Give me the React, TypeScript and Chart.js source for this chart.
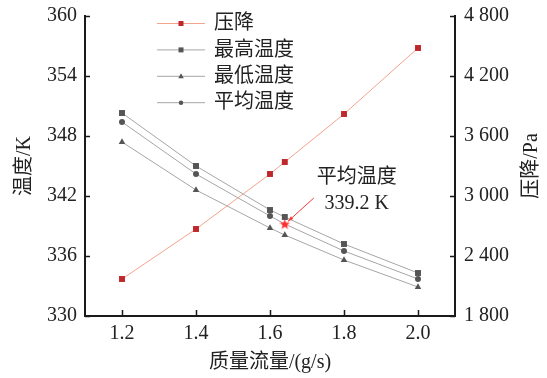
import React, { useEffect, useRef } from "react";
import { Chart, registerables } from "chart.js";

Chart.register(...registerables);

// ---- data ----
const massFlow = [1.2, 1.4, 1.6, 1.64, 1.8, 2.0];
const pressureDrop = [2170, 2670, 3220, 3340, 3820, 4480];
const maxTemp = [350.3, 345.0, 340.6, 339.9, 337.2, 334.3];
const minTemp = [347.4, 342.6, 338.8, 338.1, 335.6, 332.9];
const avgTemp = [349.4, 344.2, 340.0, 339.2, 336.5, 333.7];
const xTicks = [1.2, 1.4, 1.6, 1.8, 2.0];
const seriesNames = ["压降", "最高温度", "最低温度", "平均温度"];
const highlightIndex = 3;
const annotationTitle = "平均温度";
const annotationValue = `${avgTemp[highlightIndex]} K`;

const FONT = "'Liberation Serif', 'Times New Roman', 'Noto Sans CJK SC', serif";
const TEXT = "#222";
const AXIS = "#1a1a1a";
const RED = "#c0272d";
const SALMON = "#f2a48e";
const GRAY_LINE = "#a6a6a6";
const GRAY_MARK = "#555";

function makeStar(size: number, color: string) {
  const c = document.createElement("canvas");
  c.width = size;
  c.height = size;
  const g = c.getContext("2d")!;
  const cx = size / 2, cy = size / 2 + 0.5;
  const R = size / 2, r = R * 0.42;
  g.beginPath();
  for (let i = 0; i < 10; i++) {
    const a = -Math.PI / 2 + (i * Math.PI) / 5;
    const rad = i % 2 === 0 ? R : r;
    const px = cx + rad * Math.cos(a), py = cy + rad * Math.sin(a);
    if (i === 0) g.moveTo(px, py); else g.lineTo(px, py);
  }
  g.closePath();
  g.fillStyle = color;
  g.fill();
  return c;
}

function drawMarker(ctx: CanvasRenderingContext2D, style: string, x: number, y: number, s: number, color: string) {
  ctx.fillStyle = color;
  ctx.beginPath();
  if (style === "rect") {
    ctx.rect(x - s / 2, y - s / 2, s, s);
  } else if (style === "triangle") {
    ctx.moveTo(x, y - s * 0.6);
    ctx.lineTo(x + s * 0.55, y + s * 0.4);
    ctx.lineTo(x - s * 0.55, y + s * 0.4);
    ctx.closePath();
  } else {
    ctx.arc(x, y, s / 2, 0, Math.PI * 2);
  }
  ctx.fill();
}

const fmtThousands = (v: number) => {
  const s = String(Math.round(v));
  return s.length > 3 ? s.slice(0, -3) + " " + s.slice(-3) : s;
};

const legendItems = [
  { name: seriesNames[0], line: SALMON, mark: RED, style: "rect" },
  { name: seriesNames[1], line: GRAY_LINE, mark: GRAY_MARK, style: "rect" },
  { name: seriesNames[2], line: GRAY_LINE, mark: GRAY_MARK, style: "triangle" },
  { name: seriesNames[3], line: GRAY_LINE, mark: GRAY_MARK, style: "circle" },
];

const zeroPad = (s: any) => {
  s.paddingTop = 0;
  s.paddingBottom = 0;
  s.paddingLeft = 0;
  s.paddingRight = 0;
};

const decorPlugin = {
  id: "decor",
  afterDraw(chart: any) {
    const ctx: CanvasRenderingContext2D = chart.ctx;
    const { left, right, top, bottom } = chart.chartArea;
    const sx = chart.scales.x, sy = chart.scales.y, sy1 = chart.scales.y1;
    ctx.save();
    // inward tick marks
    ctx.strokeStyle = AXIS;
    ctx.lineWidth = 1.5;
    ctx.beginPath();
    sy.ticks.forEach((t: any) => {
      const p = Math.round(sy.getPixelForValue(t.value)) + 0.5;
      ctx.moveTo(left, p);
      ctx.lineTo(left + 5, p);
    });
    sy1.ticks.forEach((t: any) => {
      const p = Math.round(sy1.getPixelForValue(t.value)) + 0.5;
      ctx.moveTo(right, p);
      ctx.lineTo(right - 5, p);
    });
    sx.ticks.forEach((t: any) => {
      const p = Math.round(sx.getPixelForValue(t.value)) + 0.5;
      ctx.moveTo(p, bottom);
      ctx.lineTo(p, bottom - 6);
    });
    ctx.stroke();

    // right axis title (reads bottom to top)
    ctx.fillStyle = TEXT;
    ctx.font = `20px ${FONT}`;
    ctx.textAlign = "center";
    ctx.textBaseline = "middle";
    ctx.save();
    ctx.translate(532, (top + bottom) / 2);
    ctx.rotate(-Math.PI / 2);
    ctx.fillText("压降/Pa", 0, 0);
    ctx.restore();

    // legend
    const lx0 = left + 72, lx1 = left + 120, rowY0 = top + 7, rowH = 26.4;
    legendItems.forEach((it, i) => {
      const yy = rowY0 + i * rowH;
      ctx.strokeStyle = it.line;
      ctx.lineWidth = 1;
      ctx.beginPath();
      ctx.moveTo(lx0, yy + 0.5);
      ctx.lineTo(lx1, yy + 0.5);
      ctx.stroke();
      drawMarker(ctx, it.style, (lx0 + lx1) / 2, yy + 0.5, it.style === "circle" ? 4.5 : 5, it.mark);
      ctx.fillStyle = TEXT;
      ctx.font = `20px ${FONT}`;
      ctx.textAlign = "left";
      ctx.textBaseline = "middle";
      ctx.fillText(it.name, lx1 + 9, yy + 1);
    });

    // annotation with arrow
    const px = sx.getPixelForValue(massFlow[highlightIndex]);
    const py = sy.getPixelForValue(avgTemp[highlightIndex]);
    const ax0 = px + 29, ay0 = py - 26;
    const ax1 = px + 3, ay1 = py - 2.5;
    ctx.strokeStyle = "#f03a3a";
    ctx.fillStyle = "#f03a3a";
    ctx.lineWidth = 1;
    ctx.beginPath();
    ctx.moveTo(ax0, ay0);
    ctx.lineTo(ax1, ay1);
    ctx.stroke();
    const ang = Math.atan2(ay1 - ay0, ax1 - ax0);
    ctx.beginPath();
    ctx.moveTo(ax1, ay1);
    ctx.lineTo(ax1 - 6 * Math.cos(ang - 0.3), ay1 - 6 * Math.sin(ang - 0.3));
    ctx.lineTo(ax1 - 6 * Math.cos(ang + 0.3), ay1 - 6 * Math.sin(ang + 0.3));
    ctx.closePath();
    ctx.fill();

    ctx.fillStyle = TEXT;
    ctx.font = `20px ${FONT}`;
    ctx.textAlign = "center";
    ctx.textBaseline = "middle";
    ctx.fillText(annotationTitle, px + 72, py - 46);
    ctx.fillText(annotationValue, px + 72, py - 20);
    ctx.restore();
  },
};

export default function App() {
  const ref = useRef<HTMLCanvasElement | null>(null);

  useEffect(() => {
    document.body.style.margin = "0";
    const canvas = ref.current!;
    const star = makeStar(11, "#ff2a2a");
    const pts = (ys: number[]) => massFlow.map((x, i) => ({ x, y: ys[i] }));

    const chart = new Chart(canvas, {
      type: "line",
      data: {
        datasets: [
          {
            label: seriesNames[0],
            data: pts(pressureDrop),
            yAxisID: "y1",
            borderColor: SALMON,
            borderWidth: 1,
            pointStyle: "rect",
            pointRadius: 4.2,
            pointBackgroundColor: RED,
            pointBorderColor: RED,
            pointBorderWidth: 0,
          },
          {
            label: seriesNames[1],
            data: pts(maxTemp),
            yAxisID: "y",
            borderColor: GRAY_LINE,
            borderWidth: 1,
            pointStyle: "rect",
            pointRadius: 4.2,
            pointBackgroundColor: GRAY_MARK,
            pointBorderColor: GRAY_MARK,
            pointBorderWidth: 0,
          },
          {
            label: seriesNames[2],
            data: pts(minTemp),
            yAxisID: "y",
            borderColor: GRAY_LINE,
            borderWidth: 1,
            pointStyle: "triangle",
            pointRadius: 3.8,
            pointBackgroundColor: GRAY_MARK,
            pointBorderColor: GRAY_MARK,
            pointBorderWidth: 0,
          },
          {
            label: seriesNames[3],
            data: pts(avgTemp),
            yAxisID: "y",
            borderColor: GRAY_LINE,
            borderWidth: 1,
            pointStyle: massFlow.map((_, i) => (i === highlightIndex ? (star as any) : "circle")),
            pointRadius: 3,
            pointBackgroundColor: GRAY_MARK,
            pointBorderColor: GRAY_MARK,
            pointBorderWidth: 0,
          },
        ],
      },
      options: {
        responsive: false,
        animation: false,
        events: [],
        layout: { padding: { top: 16, left: 0, right: 0, bottom: 0 } },
        plugins: { legend: { display: false }, tooltip: { enabled: false } },
        scales: {
          x: {
            type: "linear",
            min: 1.1,
            max: 2.1,
            afterBuildTicks: (s: any) => {
              s.ticks = xTicks.map((v) => ({ value: v }));
            },
            afterFit: (s: any) => {
              s.height = 62;
              zeroPad(s);
            },
            grid: { display: false, drawTicks: false },
            border: { display: true, color: AXIS, width: 2 },
            ticks: {
              padding: 6,
              color: TEXT,
              font: { family: FONT, size: 20 },
              callback: (v: any) => Number(v).toFixed(1),
            },
            title: {
              display: true,
              text: "质量流量/(g/s)",
              color: TEXT,
              font: { family: FONT, size: 20 },
              padding: { top: 0, bottom: 3 },
            },
          },
          y: {
            position: "left",
            min: 330,
            max: 360,
            afterFit: (s: any) => {
              s.width = 85;
              zeroPad(s);
            },
            grid: { display: false, drawTicks: false },
            border: { display: true, color: AXIS, width: 2 },
            ticks: {
              stepSize: 6,
              padding: 8,
              color: TEXT,
              font: { family: FONT, size: 20 },
            },
            title: {
              display: true,
              text: "温度/K",
              color: TEXT,
              font: { family: FONT, size: 20 },
              padding: { top: 13, bottom: 0 },
            },
          },
          y1: {
            position: "right",
            min: 1800,
            max: 4800,
            afterFit: (s: any) => {
              s.width = 92;
              zeroPad(s);
            },
            grid: { display: false, drawTicks: false },
            border: { display: true, color: AXIS, width: 2 },
            ticks: {
              stepSize: 600,
              padding: 9,
              color: TEXT,
              font: { family: FONT, size: 20 },
              callback: (v: any) => fmtThousands(Number(v)),
            },
          },
        },
      },
      plugins: [decorPlugin],
    });
    return () => chart.destroy();
  }, []);

  return (
    <div style={{ width: 547, height: 378 }}>
      <canvas ref={ref} width={547} height={378} style={{ display: "block" }} />
    </div>
  );
}
